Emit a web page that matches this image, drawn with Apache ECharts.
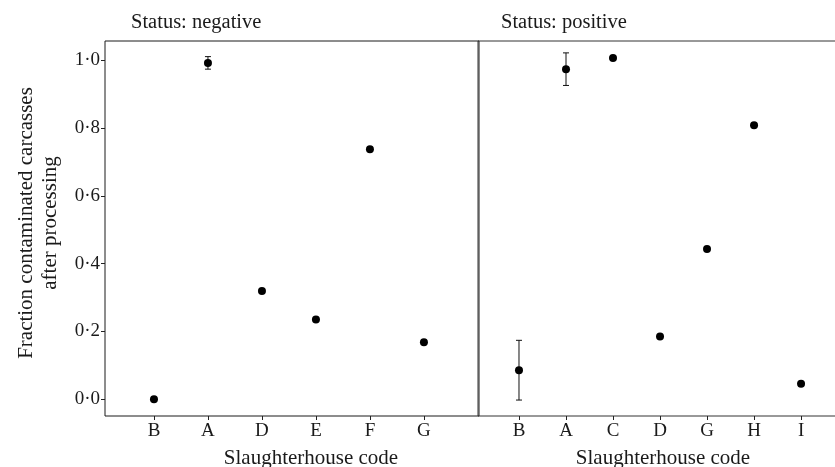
<!DOCTYPE html>
<html>
<head>
<meta charset="utf-8">
<script src="https://cdn.jsdelivr.net/npm/echarts@6/dist/echarts.min.js"></script>
<style>
html,body{margin:0;padding:0;background:#fff;}
#chart{width:835px;height:467px;}
</style>
</head>
<body>
<div id="chart"></div>
<script>
// ---- data ----
const negCodes = ['B', 'A', 'D', 'E', 'F', 'G'];
const negValues = [0.0, 0.991, 0.319, 0.235, 0.737, 0.168];
const negLower = [null, 0.973, null, null, null, null];
const negUpper = [null, 1.010, null, null, null, null];

const posCodes = ['B', 'A', 'C', 'D', 'G', 'H', 'I'];
const posValues = [0.086, 0.973, 1.006, 0.185, 0.443, 0.808, 0.046];
const posLower = [-0.002, 0.925, null, null, null, null, null];
const posUpper = [0.174, 1.021, null, null, null, null, null];

const yTicks = [0.0, 0.2, 0.4, 0.6, 0.8, 1.0];
const panelTitles = ['Status: negative', 'Status: positive'];
const xTitle = 'Slaughterhouse code';
const yTitle = 'Fraction contaminated carcasses\nafter processing';

// ---- chart ----
const FONT = '"Liberation Serif", "DejaVu Serif", serif';
const TXT = '#1a1a1a';

function points(vals) { return vals.map((v, i) => [i, v]); }
function bars(lo, hi) {
  const out = [];
  lo.forEach((l, i) => { if (l != null && hi[i] != null) out.push([i, l, hi[i]]); });
  return out;
}
function errRender(params, api) {
  const x = api.value(0);
  const pLo = api.coord([x, api.value(1)]);
  const pHi = api.coord([x, api.value(2)]);
  const w = 3;
  const style = { stroke: '#111', lineWidth: 1 };
  return {
    type: 'group',
    children: [
      { type: 'line', shape: { x1: pLo[0], y1: pLo[1], x2: pHi[0], y2: pHi[1] }, style },
      { type: 'line', shape: { x1: pLo[0] - w, y1: pLo[1], x2: pLo[0] + w, y2: pLo[1] }, style },
      { type: 'line', shape: { x1: pHi[0] - w, y1: pHi[1], x2: pHi[0] + w, y2: pHi[1] }, style }
    ]
  };
}
const yFmt = v => v.toFixed(1).replace('.', '\u00B7');

function xAxisFor(grid, codes, min, max) {
  const idx = codes.map((c, i) => i);
  return {
    type: 'value', gridIndex: grid, min: min, max: max, position: 'bottom',
    axisLine: { show: false, onZero: false },
    splitLine: { show: false },
    axisTick: { show: true, length: 4, customValues: idx, lineStyle: { color: '#222', width: 1 } },
    axisLabel: {
      customValues: idx, formatter: v => codes[Math.round(v)] || '',
      fontFamily: FONT, fontSize: 19, color: TXT, margin: 6
    }
  };
}

const chart = echarts.init(document.getElementById('chart'), null, { renderer: 'canvas' });
chart.setOption({
  animation: false,
  backgroundColor: '#fff',
  grid: [
    { left: 105, top: 41, width: 374, height: 375, show: true, borderColor: '#1a1a1a', borderWidth: 1, backgroundColor: 'transparent', containLabel: false, outerBoundsMode: 'none' },
    { left: 478, top: 41, width: 371, height: 375, show: true, borderColor: '#333', borderWidth: 1, backgroundColor: 'transparent', containLabel: false, outerBoundsMode: 'none' }
  ],
  xAxis: [
    xAxisFor(0, negCodes, -0.907, 6.02),
    xAxisFor(1, posCodes, -0.872, 7.02)
  ],
  yAxis: [
    {
      type: 'value', gridIndex: 0, min: -0.049, max: 1.056, position: 'left',
      axisLine: { show: false, onZero: false }, splitLine: { show: false },
      axisTick: { show: true, length: 4, customValues: yTicks, lineStyle: { color: '#222' } },
      axisLabel: { customValues: yTicks, formatter: yFmt, fontFamily: FONT, fontSize: 19, color: TXT, margin: 5 }
    },
    {
      type: 'value', gridIndex: 1, min: -0.049, max: 1.056,
      axisLine: { show: false, onZero: false }, splitLine: { show: false },
      axisTick: { show: false }, axisLabel: { show: false }
    }
  ],
  series: [
    { type: 'custom', xAxisIndex: 0, yAxisIndex: 0, renderItem: errRender, data: bars(negLower, negUpper), z: 3 },
    { type: 'custom', xAxisIndex: 1, yAxisIndex: 1, renderItem: errRender, data: bars(posLower, posUpper), z: 3 },
    { type: 'scatter', xAxisIndex: 0, yAxisIndex: 0, data: points(negValues), symbol: 'circle', symbolSize: 8, itemStyle: { color: '#000', opacity: 1 }, z: 4 },
    { type: 'scatter', xAxisIndex: 1, yAxisIndex: 1, data: points(posValues), symbol: 'circle', symbolSize: 8, itemStyle: { color: '#000', opacity: 1 }, z: 4 }
  ],
  graphic: [
    { type: 'text', left: 131, top: 12, style: { text: panelTitles[0], font: '20.5px ' + FONT, fill: TXT } },
    { type: 'text', left: 501, top: 12, style: { text: panelTitles[1], font: '20.5px ' + FONT, fill: TXT } },
    { type: 'text', x: 311, y: 458, style: { text: xTitle, font: '21px ' + FONT, fill: TXT, align: 'center', verticalAlign: 'middle' } },
    { type: 'text', x: 663, y: 458, style: { text: xTitle, font: '21px ' + FONT, fill: TXT, align: 'center', verticalAlign: 'middle' } },
    { type: 'text', x: 38, y: 223, rotation: Math.PI / 2, style: { text: yTitle, font: '21px ' + FONT, fill: TXT, align: 'center', verticalAlign: 'middle', lineHeight: 24 } }
  ]
});
</script>
</body>
</html>
